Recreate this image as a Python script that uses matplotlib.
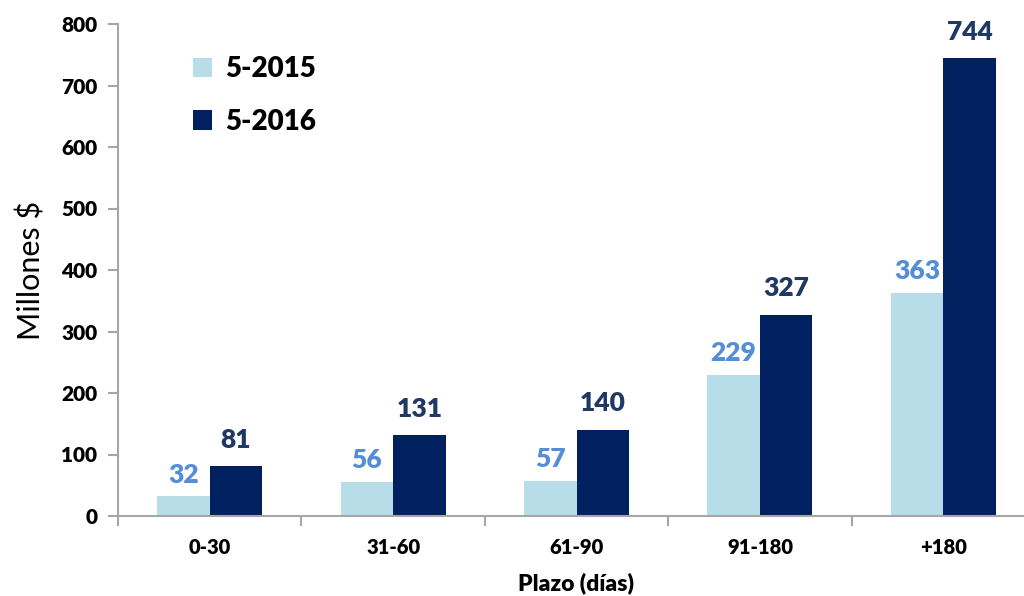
import matplotlib
matplotlib.use("Agg")
import matplotlib.pyplot as plt
import numpy as np

categories = ["0-30", "31-60", "61-90", "91-180", "+180"]
series_names = ["5-2015", "5-2016"]
values_2015 = [32, 56, 57, 229, 363]
values_2016 = [81, 131, 140, 327, 744]
y_ticks = [0, 100, 200, 300, 400, 500, 600, 700, 800]

FONT = ["Lato", "DejaVu Sans"]
plt.rcParams["font.family"] = FONT
BW = "heavy"

c_light = "#B7DDE8"
c_dark = "#002060"
lab_light = "#558ED5"
lab_dark = "#1F3864"
axis_grey = "#A6A6A6"

fig = plt.figure(figsize=(10.24, 5.96), dpi=100)
ax = fig.add_axes([118 / 1024, 1 - 516 / 596, (1035 - 118) / 1024, (516 - 24) / 596])

x = np.arange(len(categories))
w = 0.286
b1 = ax.bar(x - w / 2, values_2015, w, color=c_light, label=series_names[0], zorder=2)
b2 = ax.bar(x + w / 2, values_2016, w, color=c_dark, label=series_names[1], zorder=2)

for rect, v in zip(b1, values_2015):
    ax.annotate(str(v), (rect.get_x() + rect.get_width() / 2, v), xytext=(0, 7),
                textcoords="offset points", ha="center", va="bottom",
                fontsize=19, fontweight=BW, color=lab_light)
for rect, v in zip(b2, values_2016):
    ax.annotate(str(v), (rect.get_x() + rect.get_width() / 2, v), xytext=(0, 10.5),
                textcoords="offset points", ha="center", va="bottom",
                fontsize=19, fontweight=BW, color=lab_dark)

ax.set_xlim(-0.5, len(categories) - 0.5)
ax.set_ylim(0, 800)
ax.set_yticks(y_ticks)
ax.set_yticklabels([str(t) for t in y_ticks], fontsize=15, fontweight=BW)
ax.set_xticks(x)
ax.set_xticklabels(categories, fontsize=14.5, fontweight=BW)
ax.set_xticks(np.arange(-0.5, len(categories) + 0.5, 1), minor=True)
ax.tick_params(axis="x", which="major", length=0, pad=16)
ax.tick_params(axis="x", which="minor", length=7, width=1.5, color=axis_grey, direction="out")
ax.tick_params(axis="y", length=7, width=1.5, color=axis_grey, direction="out", pad=8)

for s in ["top", "right"]:
    ax.spines[s].set_visible(False)
for s in ["left", "bottom"]:
    ax.spines[s].set_color(axis_grey)
    ax.spines[s].set_linewidth(1.5)

ax.set_ylabel("Millones $", fontsize=22, labelpad=11)
ax.set_xlabel("Plazo (días)", fontsize=16.5, fontweight=BW, labelpad=11)

leg = ax.legend(loc="upper left", bbox_to_anchor=(0.055, 0.985), frameon=False,
                prop={"size": 20, "weight": BW, "family": FONT},
                handlelength=0.68, handleheight=0.68, handletextpad=0.45,
                labelspacing=0.95)

fig.savefig("out.png", dpi=100)
